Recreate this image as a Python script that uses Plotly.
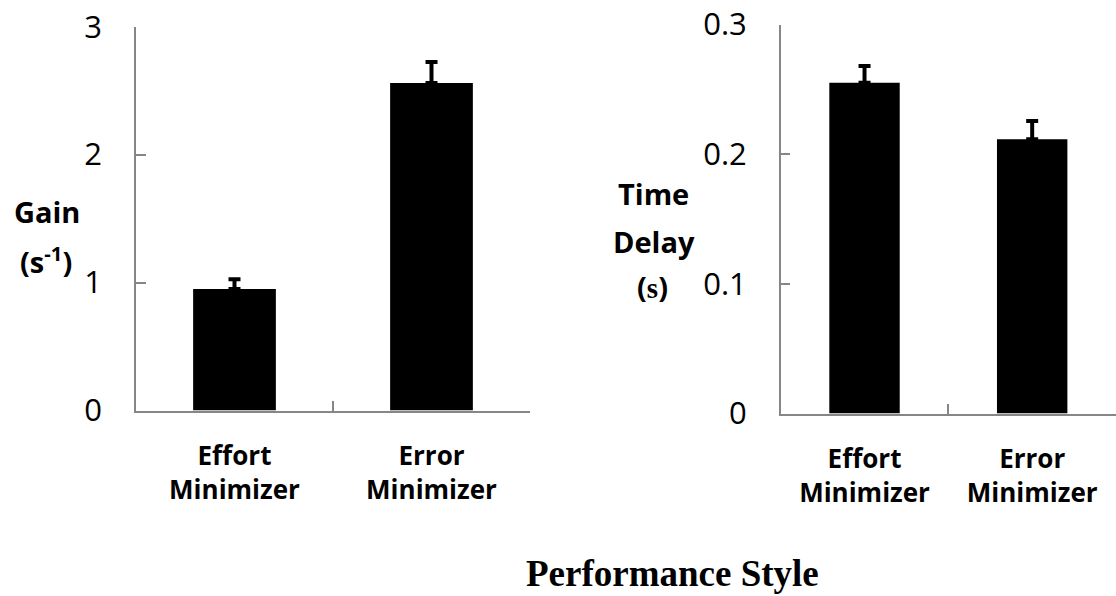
import plotly.graph_objects as go

categories = ["Effort<br>Minimizer", "Error<br>Minimizer"]
gain_values = [0.95, 2.56]
gain_errors = [0.076, 0.165]
delay_values = [0.255, 0.2115]
delay_errors = [0.013, 0.014]
gain_ticks = [0, 1, 2, 3]
delay_ticks = [0, 0.1, 0.2, 0.3]
delay_ticktext = ["0", "0.1", "0.2", "0.3"]

W, H = 1116, 596
AX = "#868686"
SANS = "Open Sans"
SERIF = "Liberation Serif"

fig = go.Figure()
fig.add_trace(go.Bar(
    x=categories, y=gain_values, xaxis="x", yaxis="y",
    marker=dict(color="black", line=dict(width=0)),
    error_y=dict(type="data", symmetric=False, array=gain_errors,
                 arrayminus=[0, 0], color="black", thickness=4, width=6),
    showlegend=False,
))
fig.add_trace(go.Bar(
    x=categories, y=delay_values, xaxis="x2", yaxis="y2",
    marker=dict(color="black", line=dict(width=0)),
    error_y=dict(type="data", symmetric=False, array=delay_errors,
                 arrayminus=[0, 0], color="black", thickness=4, width=6),
    showlegend=False,
))

def px_x(v):
    return v / W

def px_y(v):
    return 1 - v / H

xcommon = dict(showline=True, linecolor=AX, linewidth=1.5, ticks="inside",
               ticklen=10, tickcolor=AX, tickwidth=1.5, tickson="boundaries",
               showgrid=False, zeroline=False, automargin=False,
               tickfont=dict(family=SANS, size=26, color="black", weight="bold"),
               ticklabelstandoff=22, fixedrange=True)
ycommon = dict(showline=True, linecolor=AX, linewidth=1.5, ticks="inside",
               ticklen=10, tickcolor=AX, tickwidth=1.5, showgrid=False,
               zeroline=False, automargin=False,
               tickfont=dict(family=SANS, size=31, color="black"),
               ticklabelstandoff=26, fixedrange=True)

fig.update_layout(
    width=W, height=H,
    margin=dict(l=0, r=0, t=0, b=0, autoexpand=False),
    paper_bgcolor="white", plot_bgcolor="white",
    bargap=0.58,
    xaxis=dict(domain=[px_x(136), px_x(530)], anchor="y", **xcommon),
    yaxis=dict(domain=[px_y(410.5), px_y(26.7)], anchor="x", range=[0, 3],
               tickvals=gain_ticks, **ycommon),
    xaxis2=dict(domain=[px_x(780.7), 1.0], anchor="y2", **xcommon),
    yaxis2=dict(domain=[px_y(413.5), px_y(24.5)], anchor="x2", range=[0, 0.3],
                tickvals=delay_ticks, ticktext=delay_ticktext, **ycommon),
)

def label(text, x, y, size=29, family=SANS, bold=True):
    fig.add_annotation(
        text=text, x=px_x(x), y=px_y(y), xref="paper", yref="paper",
        xanchor="center", yanchor="middle", showarrow=False,
        font=dict(family=family, size=size, color="black",
                  weight="bold" if bold else "normal"),
    )

label("Gain", 47, 211)
label("(s<sup>-1</sup>)", 45.5, 260)
label("Time", 653, 193)
label("Delay", 654, 241)
label("(<span style='font-family:Liberation Serif'>s</span>)", 652, 287)
label("Performance Style", 672, 573, size=37, family=SERIF)

fig.write_html("out.html")
